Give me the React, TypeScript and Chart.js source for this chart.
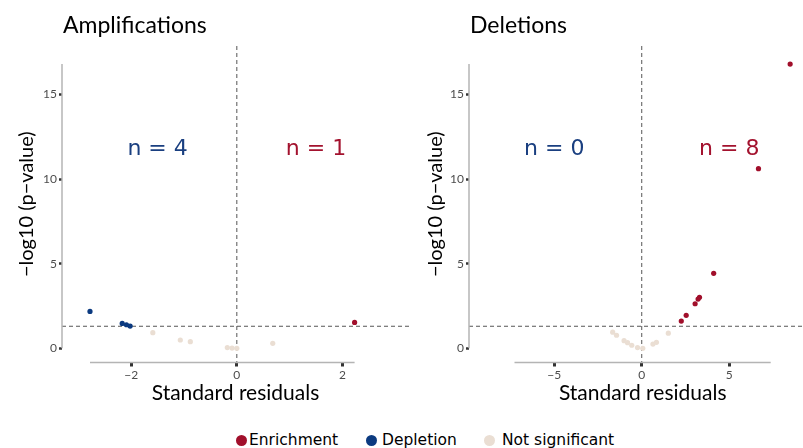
import { useEffect, useRef } from "react";
import { Chart, registerables } from "chart.js";

Chart.register(...registerables);

type Pt = [number, number];

// Standard residual (x) vs -log10 p-value (y)
const ampEnrichment: Pt[] = [[2.23, 1.53]];
const ampDepletion: Pt[] = [
  [-2.78, 2.18],
  [-2.17, 1.47],
  [-2.09, 1.39],
  [-2.02, 1.31],
];
const ampNotSignificant: Pt[] = [
  [-1.59, 0.92],
  [-1.07, 0.49],
  [-0.88, 0.39],
  [-0.18, 0.04],
  [-0.09, 0.01],
  [0.0, 0.0],
  [0.68, 0.29],
];

const delEnrichment: Pt[] = [
  [8.48, 16.79],
  [6.67, 10.61],
  [4.11, 4.43],
  [3.3, 3.01],
  [3.22, 2.91],
  [3.05, 2.63],
  [2.54, 1.95],
  [2.26, 1.61],
];
const delDepletion: Pt[] = [];
const delNotSignificant: Pt[] = [
  [-1.66, 0.95],
  [-1.44, 0.77],
  [-1.01, 0.45],
  [-0.81, 0.33],
  [-0.57, 0.18],
  [-0.24, 0.04],
  [0.06, 0.0],
  [0.64, 0.25],
  [0.84, 0.35],
  [1.52, 0.89],
];

// x-extent of the residual frame on the deletions panel
const delResidualFrame: [number, number] = [-7.27, 7.37];

const P_CUTOFF = 0.05;
const Y_TICKS_STEP = 5;

const RED = "#a10f2b";
const BLUE = "#0b3a80";
const BEIGE = "#eaded3";
const N_BLUE = "#1a3f80";
const N_RED = "#a3122e";

const SANS = "Lato, 'Open Sans', sans-serif";
const DEJAVU = "'DejaVu Sans', Verdana, sans-serif";

const allY = [
  ...ampEnrichment, ...ampDepletion, ...ampNotSignificant,
  ...delEnrichment, ...delDepletion, ...delNotSignificant,
].map((p) => p[1]);
const Y_FRAME: [number, number] = [Math.min(...allY), Math.max(...allY)];

type PanelCfg = {
  title: string;
  enrichment: Pt[];
  depletion: Pt[];
  notSig: Pt[];
  xMin: number;
  xMax: number;
  xStep: number;
  xFrame: [number, number];
  nLabelX: number;
  nLabelY: number;
  canvasW: number;
  padRight: number;
  yAxisW: number;
  yTitlePad: number;
};

const minus = (v: number) => (v < 0 ? "\u2212" + Math.abs(v) : String(v));

const toXY = (pts: Pt[]) => pts.map(([x, y]) => ({ x, y }));

const CANVAS_H = 410;
const AREA_TOP = 46;
const AREA_BOTTOM = 362.5;

function Panel({ cfg, left }: { cfg: PanelCfg; left: number }) {
  const ref = useRef<HTMLCanvasElement | null>(null);

  useEffect(() => {
    if (!ref.current) return;

    const decor = {
      id: "panelDecor",
      beforeDatasetsDraw(chart: any) {
        const { ctx, chartArea, scales } = chart;
        const xs = scales.x;
        const ys = scales.y;
        ctx.save();
        // significance threshold and zero-residual reference lines
        ctx.strokeStyle = "#555";
        ctx.lineWidth = 1;
        ctx.setLineDash([4, 3]);
        const yCut = ys.getPixelForValue(-Math.log10(P_CUTOFF));
        ctx.beginPath();
        ctx.moveTo(chartArea.left, yCut);
        ctx.lineTo(chartArea.right, yCut);
        ctx.stroke();
        const x0 = xs.getPixelForValue(0);
        ctx.beginPath();
        ctx.moveTo(x0, chartArea.top);
        ctx.lineTo(x0, chartArea.bottom);
        ctx.stroke();
        ctx.setLineDash([]);

        // range-frame axis lines
        ctx.strokeStyle = "#b4b4b4";
        ctx.lineWidth = 1.5;
        ctx.beginPath();
        ctx.moveTo(xs.getPixelForValue(cfg.xFrame[0]), chartArea.bottom);
        ctx.lineTo(xs.getPixelForValue(cfg.xFrame[1]), chartArea.bottom);
        ctx.stroke();
        ctx.beginPath();
        ctx.moveTo(chartArea.left, ys.getPixelForValue(Y_FRAME[0]));
        ctx.lineTo(chartArea.left, ys.getPixelForValue(Y_FRAME[1]));
        ctx.stroke();
        ctx.restore();
      },
      afterDraw(chart: any) {
        const { ctx, chartArea, scales } = chart;
        ctx.save();
        ctx.fillStyle = "#000";
        ctx.font = `23px ${SANS}`;
        ctx.textAlign = "left";
        ctx.textBaseline = "alphabetic";
        ctx.fillText(cfg.title, chartArea.left + 1, 33);

        ctx.font = `22px ${DEJAVU}`;
        ctx.textAlign = "center";
        ctx.textBaseline = "middle";
        const yN = scales.y.getPixelForValue(cfg.nLabelY);
        ctx.fillStyle = N_BLUE;
        ctx.fillText(`n = ${cfg.depletion.length}`, scales.x.getPixelForValue(-cfg.nLabelX), yN);
        ctx.fillStyle = N_RED;
        ctx.fillText(`n = ${cfg.enrichment.length}`, scales.x.getPixelForValue(cfg.nLabelX), yN);
        ctx.restore();
      },
    };

    const chart = new Chart(ref.current, {
      type: "scatter",
      data: {
        datasets: [
          { label: "Not significant", data: toXY(cfg.notSig), backgroundColor: BEIGE },
          { label: "Depletion", data: toXY(cfg.depletion), backgroundColor: BLUE },
          { label: "Enrichment", data: toXY(cfg.enrichment), backgroundColor: RED },
        ].map((d) => ({ ...d, pointRadius: 2.6, borderWidth: 0, pointHoverRadius: 2.6 })),
      },
      options: {
        animation: false,
        responsive: false,
        maintainAspectRatio: false,
        events: [],
        layout: { padding: { top: AREA_TOP, left: 0, right: cfg.padRight, bottom: 0 } },
        plugins: { legend: { display: false }, tooltip: { enabled: false } },
        scales: {
          x: {
            type: "linear",
            min: cfg.xMin,
            max: cfg.xMax,
            afterFit: (s: any) => {
              s.height = CANVAS_H - AREA_BOTTOM;
            },
            ticks: {
              stepSize: cfg.xStep,
              includeBounds: false,
              callback: (v: any) => minus(Number(v)),
              color: "#4d4d4d",
              font: { family: SANS, size: 12 },
              padding: 1,
              maxRotation: 0,
            },
            grid: {
              drawOnChartArea: false,
              drawTicks: true,
              tickLength: 4,
              tickWidth: 3,
              tickColor: "#333",
              color: "#333",
            },
            border: { display: false },
            title: {
              display: true,
              text: "Standard residuals",
              color: "#000",
              font: { family: SANS, size: 21 },
              padding: { top: 0, bottom: 4 },
            },
          },
          y: {
            type: "linear",
            min: -0.84,
            max: 17.86,
            afterFit: (s: any) => {
              s.width = cfg.yAxisW;
            },
            ticks: {
              stepSize: Y_TICKS_STEP,
              includeBounds: false,
              callback: (v: any) => minus(Number(v)),
              color: "#4d4d4d",
              font: { family: SANS, size: 12 },
              padding: 2,
            },
            grid: {
              drawOnChartArea: false,
              drawTicks: true,
              tickLength: 3,
              tickWidth: 2.5,
              tickColor: "#333",
              color: "#333",
            },
            border: { display: false },
            title: {
              display: true,
              text: "\u2212log10 (p\u2212value)",
              color: "#000",
              font: { family: SANS, size: 20 },
              padding: { top: cfg.yTitlePad, bottom: 0 },
            },
          },
        },
      },
      plugins: [decor],
    } as any);

    return () => chart.destroy();
  }, [cfg]);

  return (
    <canvas
      ref={ref}
      width={cfg.canvasW}
      height={CANVAS_H}
      style={{ position: "absolute", left, top: 0, width: cfg.canvasW, height: CANVAS_H }}
    />
  );
}

const ampXs = [...ampEnrichment, ...ampDepletion, ...ampNotSignificant].map((p) => p[0]);

const AMP: PanelCfg = {
  title: "Amplifications",
  enrichment: ampEnrichment,
  depletion: ampDepletion,
  notSig: ampNotSignificant,
  xMin: -3.31,
  xMax: 3.26,
  xStep: 2,
  xFrame: [Math.min(...ampXs), Math.max(...ampXs)],
  nLabelX: 1.5,
  nLabelY: 11.75,
  canvasW: 420,
  padRight: 11,
  yAxisW: 62,
  yTitlePad: 15,
};

const DEL: PanelCfg = {
  title: "Deletions",
  enrichment: delEnrichment,
  depletion: delDepletion,
  notSig: delNotSignificant,
  xMin: -9.87,
  xMax: 9.98,
  xStep: 5,
  xFrame: delResidualFrame,
  nLabelX: 5,
  nLabelY: 11.75,
  canvasW: 416,
  padRight: 0,
  yAxisW: 66,
  yTitlePad: 21,
};

const LEGEND = [
  { label: "Enrichment", color: RED, dotX: 241, textX: 249 },
  { label: "Depletion", color: BLUE, dotX: 371, textX: 382 },
  { label: "Not significant", color: BEIGE, dotX: 489, textX: 502 },
];

export default function App() {
  return (
    <div
      style={{
        position: "fixed",
        left: 0,
        top: 0,
        width: 803,
        height: 448,
        overflow: "hidden",
        background: "#fff",
      }}
    >
      <Panel cfg={AMP} left={0} />
      <Panel cfg={DEL} left={403} />
      {LEGEND.map((item) => (
        <div key={item.label}>
          <span
            style={{
              position: "absolute",
              left: item.dotX - 5.5,
              top: 435,
              width: 11,
              height: 11,
              borderRadius: "50%",
              background: item.color,
            }}
          />
          <span
            style={{
              position: "absolute",
              left: item.textX,
              top: 430,
              fontFamily: DEJAVU,
              fontSize: 15.5,
              lineHeight: "20px",
              color: "#000",
              whiteSpace: "nowrap",
            }}
          >
            {item.label}
          </span>
        </div>
      ))}
    </div>
  );
}
